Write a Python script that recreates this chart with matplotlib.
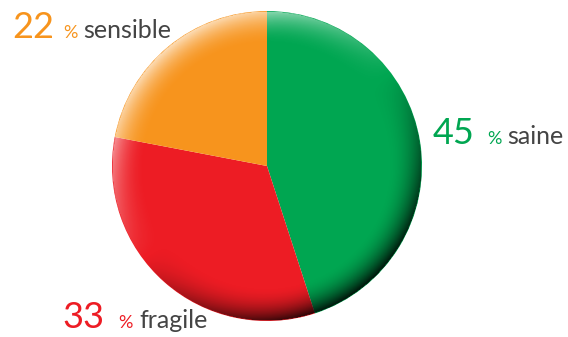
import numpy as np
import matplotlib.pyplot as plt
from matplotlib.patches import Circle

labels = ['saine', 'fragile', 'sensible']
values = [45, 33, 22]
colors = ['#00A651', '#ED1C24', '#F7941D']

W, H = 568, 337
fig = plt.figure(figsize=(W / 100, H / 100), dpi=100)
ax = fig.add_axes([0, 0, 1, 1])

cx, cy, R = 267, 166, 155
# y axis is inverted below, so data-ccw shows up clockwise
ax.pie(values, colors=colors, startangle=-90, counterclock=True,
       center=(cx, cy), radius=R, frame=True,
       wedgeprops=dict(linewidth=0))
ax.set_xlim(0, W)
ax.set_ylim(H, 0)
ax.set_aspect('equal')
ax.axis('off')

# rim shading overlay (light upper-left, dark lower-right)
n = 400
xs = np.linspace(-1, 1, n)
X, Y = np.meshgrid(xs, xs)  # Y grows downward in image
r = np.sqrt(X**2 + Y**2)
lx, ly = -0.6, -0.8
d = (X * lx + Y * ly) / np.maximum(r, 1e-6)
t = np.clip((r - 0.78) / 0.22, 0, 1) ** 2.0
rgba = np.zeros((n, n, 4))
rgba[..., :3] = np.where(d[..., None] > 0, 1.0, 0.0)
rgba[..., 3] = np.where(d > 0, t * np.clip(d, 0, 1) * 0.7,
                        t * np.clip(-d, 0, 1) * 0.9)
rgba[r > 1, 3] = 0
im = ax.imshow(rgba, extent=(cx - R, cx + R, cy + R, cy - R), zorder=5,
               interpolation='bilinear')
im.set_clip_path(Circle((cx, cy), R, transform=ax.transData))

fam = ['Lato', 'DejaVu Sans']
gray = '#444444'
pos = {0: (433, 144, 487, 507), 1: (62, 328, 118, 139), 2: (12, 38, 63, 83)}
for i, lab in enumerate(labels):
    x0, yb, xp, xl = pos[i]
    ax.text(x0, yb, str(values[i]), color=colors[i], fontsize=26, family=fam,
            va='baseline', ha='left')
    ax.text(xp, yb, '%', color=colors[i], fontsize=13, family=fam,
            va='baseline', ha='left')
    ax.text(xl, yb, lab, color=gray, fontsize=18, family=fam,
            va='baseline', ha='left')

fig.savefig('out.png', dpi=100)
